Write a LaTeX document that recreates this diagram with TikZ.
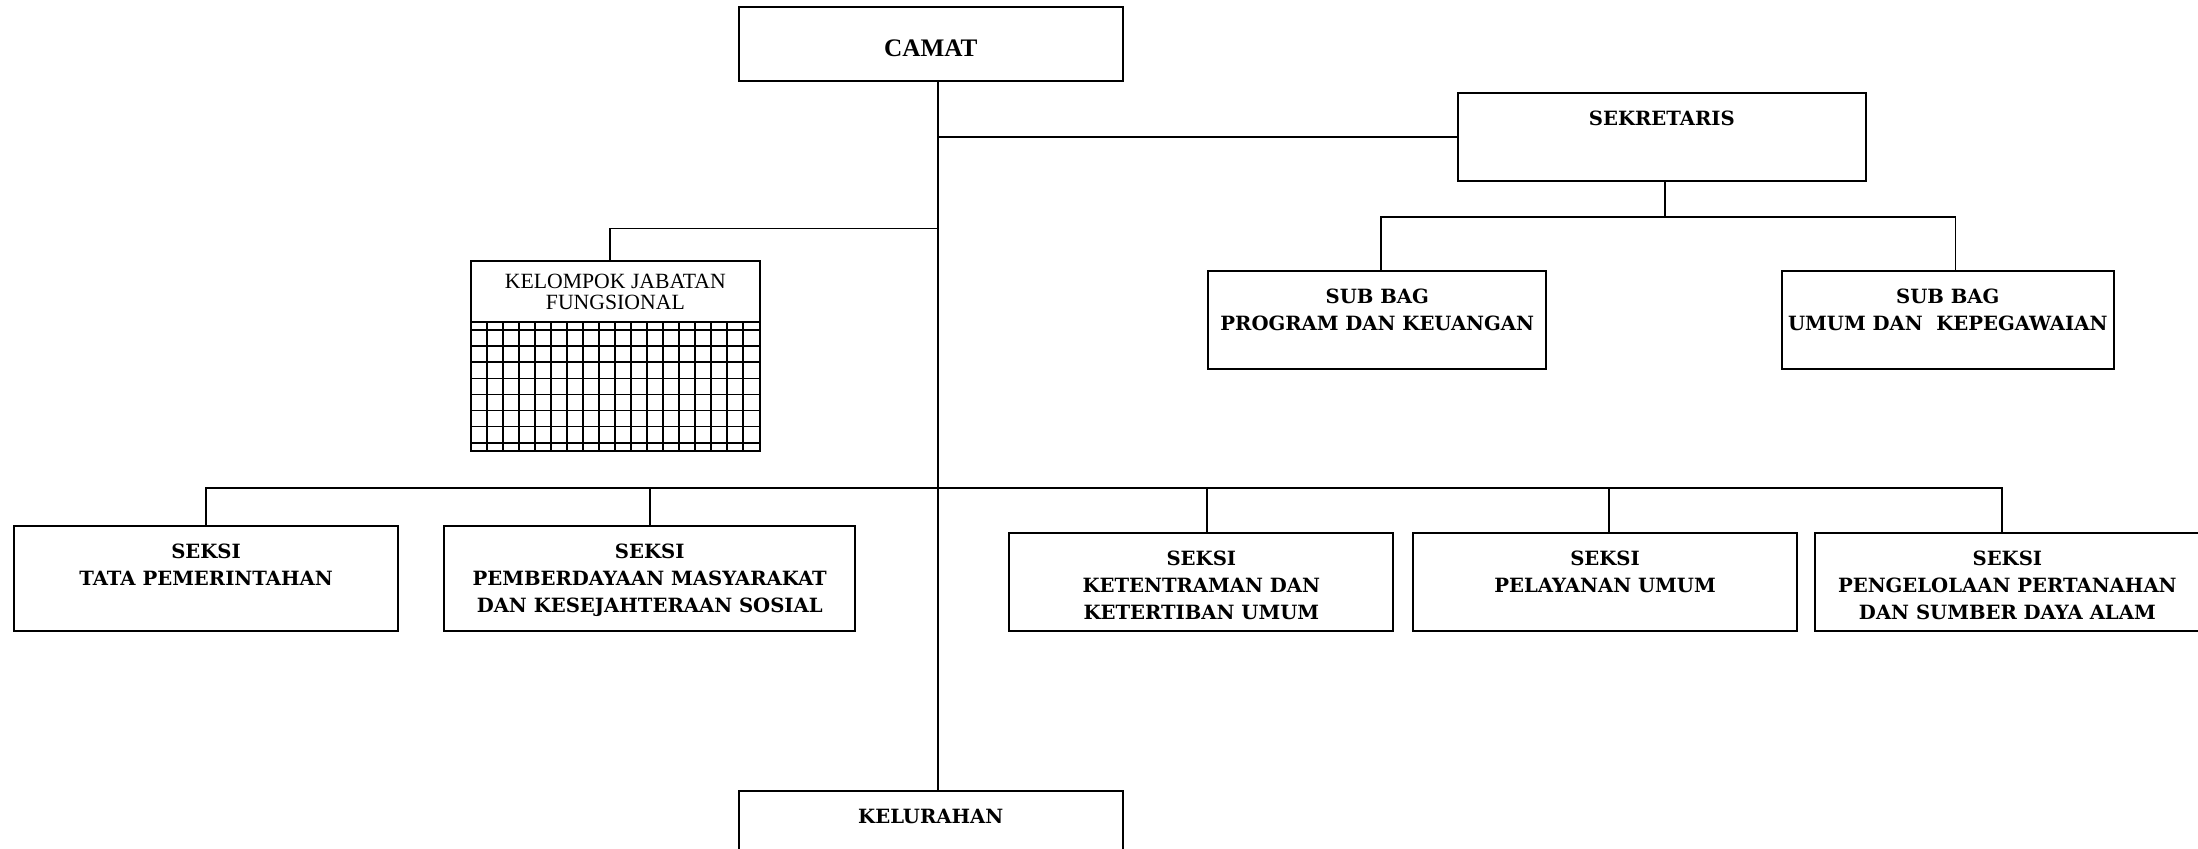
\documentclass[tikz,border=0pt]{standalone}
\usepackage{fontspec}
\setmainfont{DejaVu Serif}
\newfontfamily\timesfam{Liberation Serif}

\newcommand{\bk}{\bfseries\fontsize{14}{19}\selectfont}
\newcommand{\bkthin}{\timesfam\fontsize{15.5}{15}\selectfont}
\newcommand{\camatfont}{\timesfam\bfseries\fontsize{18}{20}\selectfont}

\tikzset{
    unit/.style={draw, rectangle, line width=1.4pt, inner sep=0pt, outer sep=0pt, anchor=north west},
    txt/.style={font=\bk, align=center, inner sep=0pt, anchor=north, yshift=-13pt},
    inbox/.style={label={[txt]north:#1}},
    link/.style={line width=1.3pt},
}

\begin{document}
\begin{tikzpicture}[x=1pt, y=-1pt]
        \useasboundingbox (0,0) rectangle (1568,605);
        \clip (0,0) rectangle (1568,605);

        \node[unit, minimum width=274, minimum height=53,
              label={[txt, font=\camatfont, yshift=-10.5pt]north:CAMAT}] (camat) at (527,5) {};
        \node[unit, minimum width=291, minimum height=63, inbox={SEKRETARIS}] (sek) at (1040,66) {};
        \node[unit, minimum width=241, minimum height=70, inbox={SUB BAG\\PROGRAM DAN KEUANGAN}] (prog) at (862,193) {};
        \node[unit, minimum width=237, minimum height=70, inbox={SUB BAG\\UMUM DAN\ \ KEPEGAWAIAN}] (umum) at (1271,193) {};
        \node[unit, minimum width=206, minimum height=136,
              label={[txt, font=\bkthin, yshift=4pt]north:KELOMPOK JABATAN\\FUNGSIONAL}] (kjf) at (336,186) {};
        \node[unit, minimum width=274, minimum height=75, inbox={SEKSI\\TATA PEMERINTAHAN}] (tata) at (10,375) {};
        \node[unit, minimum width=293, minimum height=75,
              inbox={SEKSI\\PEMBERDAYAAN MASYARAKAT\\DAN KESEJAHTERAAN SOSIAL}] (pemb) at (317,375) {};
        \node[unit, minimum width=274, minimum height=70, inbox={SEKSI\\KETENTRAMAN DAN\\KETERTIBAN UMUM}] (ket) at (720,380) {};
        \node[unit, minimum width=274, minimum height=70, inbox={SEKSI\\PELAYANAN UMUM}] (pel) at (1008,380) {};
        \node[unit, minimum width=274, minimum height=70,
              inbox={SEKSI\\PENGELOLAAN PERTANAHAN\\DAN SUMBER DAYA ALAM}] (peng) at (1295,380) {};
        \node[unit, minimum width=274, minimum height=60, inbox={KELURAHAN}] (kel) at (527,564) {};

        \coordinate (trunk) at (669,0);
        \coordinate (subbus) at (0,155);
        \coordinate (kbus) at (0,163);
        \coordinate (sbus) at (0,348);

        % grid of the functional group
        \draw[link, line width=1.4pt] (336,229.5) -- (542,229.5);
        \foreach \i in {1,...,17}
            \draw[link] (336+11.4*\i,229.5) -- (336+11.4*\i,322);
        \foreach \j in {0,...,7}
            \draw[link] (336,235.6+11.45*\j) -- (542,235.6+11.45*\j);

        \draw[link] (camat.south -| trunk) -- (kel.north -| trunk);
        \draw[link] (trunk |- sek.west) -- (sek.west);
        \draw[link] ([xshift=2.5pt]sek.south) -- ([xshift=2.5pt]sek.south |- subbus);
        \draw[link] ([xshift=2.5pt]prog.north) -- ([xshift=2.5pt]prog.north |- subbus)
            -- ([xshift=5.5pt]umum.north |- subbus) -- ([xshift=5.5pt]umum.north);
        \draw[link] ([xshift=-4pt]kjf.north) -- ([xshift=-4pt]kjf.north |- kbus) -- (trunk |- kbus);
        \draw[link] (tata.north) -- (tata.north |- sbus) -- ([xshift=-4pt]peng.north |- sbus) -- ([xshift=-4pt]peng.north);
        \draw[link] (pemb.north) -- (pemb.north |- sbus);
        \draw[link] ([xshift=4pt]ket.north) -- ([xshift=4pt]ket.north |- sbus);
        \draw[link] ([xshift=3pt]pel.north) -- ([xshift=3pt]pel.north |- sbus);
    \end{tikzpicture}
\end{document}
